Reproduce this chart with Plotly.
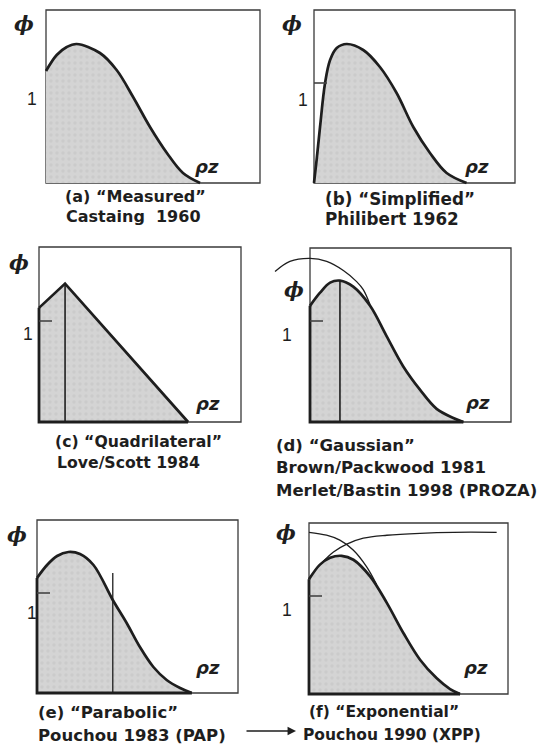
import plotly.graph_objects as go

W, H = 541, 747

# ---- depth distributions phi(rho z), read per model ----
# (a) measured, Castaing 1960
a_rz = [0.0, 0.05, 0.097, 0.143, 0.252, 0.330, 0.407, 0.486, 0.565, 0.640, 0.720]
a_phi = [1.12, 1.28, 1.36, 1.39, 1.30, 1.13, 0.86, 0.56, 0.30, 0.10, 0.0]

# (b) simplified, Philibert 1962
b_rz = [0.0, 0.013, 0.030, 0.055, 0.080, 0.113, 0.163, 0.245, 0.328, 0.411, 0.494, 0.577, 0.660, 0.759]
b_phi = [0.0, 0.23, 0.56, 1.00, 1.23, 1.35, 1.39, 1.33, 1.16, 0.90, 0.56, 0.30, 0.10, 0.0]

# (c) quadrilateral, Love/Scott 1984
c_rz = [0.0, 0.129, 0.738]
c_phi = [1.13, 1.37, 0.0]
c_peak_rz = 0.129

# (d) gaussian, Brown/Packwood 1981, Merlet/Bastin 1998
d_rz = [0.0, 0.05, 0.10, 0.149, 0.215, 0.299, 0.381, 0.464, 0.547, 0.630, 0.713, 0.763]
d_phi = [1.15, 1.28, 1.38, 1.40, 1.34, 1.15, 0.85, 0.55, 0.32, 0.13, 0.04, 0.0]
d_gauss_rz = [-0.174, -0.100, 0.0, 0.083, 0.166, 0.232, 0.265, 0.299]
d_gauss_phi = [1.49, 1.59, 1.62, 1.59, 1.50, 1.39, 1.31, 1.16]
d_peak_rz = 0.149

# (e) parabolic, Pouchou 1983 (PAP)
e_rz = [0.0, 0.05, 0.10, 0.156, 0.214, 0.281, 0.377, 0.446, 0.512, 0.579, 0.645, 0.712, 0.770]
e_phi = [1.15, 1.28, 1.37, 1.41, 1.39, 1.28, 0.93, 0.70, 0.46, 0.26, 0.13, 0.05, 0.0]
e_split_rz = 0.377
e_split_top = 1.20

# (f) exponential, Pouchou 1990 (XPP)
f_rz = [0.0, 0.055, 0.106, 0.164, 0.223, 0.307, 0.391, 0.475, 0.558, 0.642, 0.709, 0.759]
f_phi = [1.17, 1.32, 1.39, 1.41, 1.37, 1.20, 0.93, 0.62, 0.35, 0.16, 0.05, 0.0]
f_dec_rz = [0.0, 0.088, 0.155, 0.222, 0.289, 0.339]
f_dec_phi = [1.65, 1.62, 1.57, 1.47, 1.30, 1.12]
f_rise_rz = [0.06, 0.123, 0.190, 0.273, 0.391, 0.558, 0.726, 0.943]
f_rise_phi = [1.33, 1.45, 1.53, 1.59, 1.62, 1.64, 1.65, 1.65]

captions = {
    "a": ["(a) \u201cMeasured\u201d", "Castaing  1960"],
    "b": ["(b) \u201cSimplified\u201d", "Philibert 1962"],
    "c": ["(c) \u201cQuadrilateral\u201d", "Love/Scott 1984"],
    "d": ["(d) \u201cGaussian\u201d", "Brown/Packwood 1981", "Merlet/Bastin 1998 (PROZA)"],
    "e": ["(e) \u201cParabolic\u201d", "Pouchou 1983 (PAP)"],
    "f": ["(f) \u201cExponential\u201d", "Pouchou 1990 (XPP)"],
}

# ---- panel geometry (pixels): frame box, pixels per unit phi, extra left room ----
panels = {
    "a": dict(box=(46, 10, 260, 183), unit=100, lpad=4, thick=False,
              phi_xy=(24, 24), one_xy=(32, 99), rz_xy=(207, 166),
              cap_x=[63, 64], cap_y=[197, 216], cap_size=16),
    "b": dict(box=(314, 10, 515, 183), unit=100, lpad=4, thick=False,
              phi_xy=(292, 24), one_xy=(303, 100), rz_xy=(477, 166),
              cap_x=[323, 323], cap_y=[199, 219], cap_size=16.8),
    "c": dict(box=(39, 247, 241, 422), unit=101, lpad=4, thick=True,
              phi_xy=(19, 263), one_xy=(28, 334), rz_xy=(208, 403),
              cap_x=[53, 55], cap_y=[441, 462], cap_size=15.7),
    "d": dict(box=(310, 248, 511, 422), unit=101, lpad=44, thick=True,
              phi_xy=(294, 290), one_xy=(287, 335), rz_xy=(478, 402),
              cap_x=[274, 274, 274], cap_y=[445, 467, 490], cap_size=16.5),
    "e": dict(box=(37, 520, 238, 693), unit=100, lpad=4, thick=True,
              phi_xy=(17, 534), one_xy=(32, 613), rz_xy=(208, 667),
              cap_x=[36, 36], cap_y=[712, 735], cap_size=16.5),
    "f": dict(box=(309, 523, 508, 694), unit=98, lpad=4, thick=True,
              phi_xy=(286, 532), one_xy=(287, 610), rz_xy=(476, 667),
              cap_x=[307, 301], cap_y=[712, 735], cap_size=15.5),
}

curves = {
    "a": (a_rz, a_phi), "b": (b_rz, b_phi), "c": (c_rz, c_phi),
    "d": (d_rz, d_phi), "e": (e_rz, e_phi), "f": (f_rz, f_phi),
}

INK = "#1e1e1e"
FRAME = "#3a3a3a"
FILL = "#d4d4d4"
TXT = "DejaVu Sans"

fig = go.Figure()
shapes, annotations = [], []


def px(x):
    return x / W


def py(y):
    return 1 - y / H


for i, key in enumerate("abcdef"):
    p = panels[key]
    L, T, R, B = p["box"]
    w, h, u = R - L, B - T, p["unit"]
    pad = 4
    xl, xr, yt, yb = L - p["lpad"], R + pad, T - pad, B + pad
    x_rng = [-(L - xl) / w, 1 + (xr - R) / w]
    y_rng = [-(yb - B) / u, (B - yt) / u]
    ymax = h / u
    n = "" if i == 0 else str(i + 1)
    xa, ya = "x" + n, "y" + n
    ax_common = dict(visible=False, showgrid=False, zeroline=False, fixedrange=True)
    fig.layout["xaxis" + n] = dict(domain=[px(xl), px(xr)], range=x_rng,
                                   anchor=ya, **ax_common)
    fig.layout["yaxis" + n] = dict(domain=[py(yb), py(yt)], range=y_rng,
                                   anchor=xa, **ax_common)

    rz, phi = curves[key]
    shape = "linear" if key == "c" else "spline"
    # shaded area under the distribution
    fig.add_trace(go.Scatter(
        x=rz, y=phi, xaxis=xa, yaxis=ya, mode="lines", fill="tozeroy",
        line=dict(width=0, shape=shape, color=FILL),
        fillcolor=FILL,
        fillpattern=dict(shape=".", bgcolor=FILL, fgcolor="#c2c2c2",
                         size=6, solidity=0.25),
        hoverinfo="skip", showlegend=False))

    # frame
    shapes.append(dict(type="rect", xref=xa, yref=ya, x0=0, x1=1, y0=0, y1=ymax,
                       line=dict(color=FRAME, width=1.3), layer="below"))

    # closed outline on the model panels
    if p["thick"]:
        fig.add_trace(go.Scatter(
            x=[0, 0, rz[-1]], y=[phi[0], 0, 0], xaxis=xa, yaxis=ya, mode="lines",
            line=dict(color=INK, width=2.8), hoverinfo="skip", showlegend=False))

    # distribution curve
    fig.add_trace(go.Scatter(
        x=rz, y=phi, xaxis=xa, yaxis=ya, mode="lines",
        line=dict(color=INK, width=2.7, shape=shape),
        hoverinfo="skip", showlegend=False))

    # short tick marking phi = 1
    if key != "a":
        fig.add_trace(go.Scatter(
            x=[0, 13 / w], y=[1, 1], xaxis=xa, yaxis=ya, mode="lines",
            line=dict(color="#444444", width=1.6), hoverinfo="skip", showlegend=False))

    # panel texts
    annotations.append(dict(x=px(p["phi_xy"][0]), y=py(p["phi_xy"][1]), xref="paper",
                            yref="paper", text="<b><i>\u03d5</i></b>", showarrow=False,
                            font=dict(family="DejaVu Serif", size=21, color=INK),
                            xanchor="center", yanchor="middle"))
    annotations.append(dict(x=px(p["one_xy"][0]), y=py(p["one_xy"][1]), xref="paper",
                            yref="paper", text="1", showarrow=False,
                            font=dict(family="Liberation Sans", size=17.5, color=INK),
                            xanchor="center", yanchor="middle"))
    annotations.append(dict(x=px(p["rz_xy"][0]), y=py(p["rz_xy"][1]), xref="paper",
                            yref="paper", text="<b><i>\u03c1z</i></b>", showarrow=False,
                            font=dict(family=TXT, size=18, color=INK),
                            xanchor="center", yanchor="middle"))
    for line, cx, cy in zip(captions[key], p["cap_x"], p["cap_y"]):
        annotations.append(dict(x=px(cx), y=py(cy), xref="paper", yref="paper",
                                text="<b>" + line + "</b>", showarrow=False,
                                font=dict(family=TXT, size=p["cap_size"], color=INK),
                                xanchor="left", yanchor="middle"))

# peak markers and auxiliary curves
fig.add_trace(go.Scatter(x=[c_peak_rz, c_peak_rz], y=[0, c_phi[1]], xaxis="x3", yaxis="y3",
                         mode="lines", line=dict(color=INK, width=1.6),
                         hoverinfo="skip", showlegend=False))
fig.add_trace(go.Scatter(x=[d_peak_rz, d_peak_rz], y=[0, max(d_phi)], xaxis="x4", yaxis="y4",
                         mode="lines", line=dict(color=INK, width=1.6),
                         hoverinfo="skip", showlegend=False))
fig.add_trace(go.Scatter(x=d_gauss_rz, y=d_gauss_phi, xaxis="x4", yaxis="y4",
                         mode="lines", line=dict(color=INK, width=1.3, shape="spline"),
                         hoverinfo="skip", showlegend=False))
fig.add_trace(go.Scatter(x=[e_split_rz, e_split_rz], y=[0, e_split_top], xaxis="x5", yaxis="y5",
                         mode="lines", line=dict(color=INK, width=1.3),
                         hoverinfo="skip", showlegend=False))
fig.add_trace(go.Scatter(x=f_dec_rz, y=f_dec_phi, xaxis="x6", yaxis="y6",
                         mode="lines", line=dict(color=INK, width=1.3, shape="spline"),
                         hoverinfo="skip", showlegend=False))
fig.add_trace(go.Scatter(x=f_rise_rz, y=f_rise_phi, xaxis="x6", yaxis="y6",
                         mode="lines", line=dict(color=INK, width=1.3, shape="spline"),
                         hoverinfo="skip", showlegend=False))

# arrow from PAP to XPP
annotations.append(dict(x=px(296), y=py(731), ax=-51, ay=0,
                        xref="paper", yref="paper", axref="pixel", ayref="pixel",
                        text="", showarrow=True, arrowhead=2, arrowsize=1.3,
                        arrowwidth=1.3, arrowcolor=INK))

fig.update_layout(
    width=W, height=H, margin=dict(l=0, r=0, t=0, b=0),
    paper_bgcolor="white", plot_bgcolor="rgba(0,0,0,0)",
    shapes=shapes, annotations=annotations, showlegend=False,
)

fig.write_html("out.html")
